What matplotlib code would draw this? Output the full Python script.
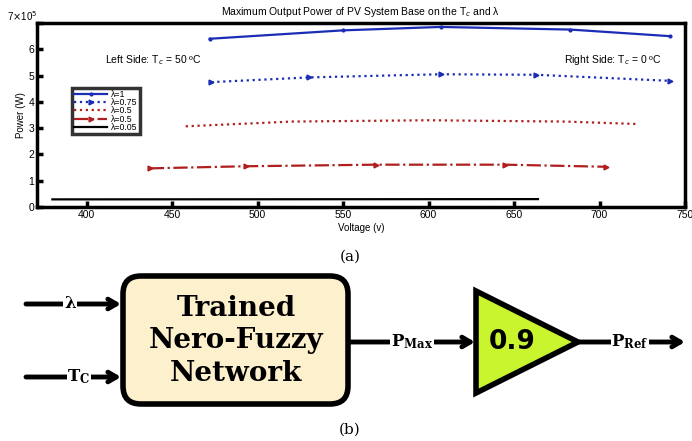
import matplotlib
matplotlib.use("Agg")
import matplotlib.pyplot as plt
from matplotlib.patches import FancyBboxPatch, Polygon

plt.rcParams['font.family'] = ['Liberation Sans', 'DejaVu Sans']
plt.rcParams['mathtext.fontset'] = 'dejavusans'

# ---- data (a) ----
v_l1 = [472, 550, 607, 683, 741]
p_l1 = [6.40e5, 6.72e5, 6.85e5, 6.75e5, 6.50e5]
v_l075 = [473, 530, 607, 663, 741]
p_l075 = [4.75e5, 4.93e5, 5.05e5, 5.03e5, 4.80e5]
v_l05a = [458, 520, 600, 680, 721]
p_l05a = [3.07e5, 3.25e5, 3.30e5, 3.25e5, 3.16e5]
v_l05b = [437, 493, 569, 645, 704]
p_l05b = [1.47e5, 1.55e5, 1.61e5, 1.61e5, 1.53e5]
v_l005 = [380, 664]
p_l005 = [0.29e5, 0.30e5]

labels = ['λ=1', 'λ=0.75', 'λ=0.5', 'λ=0.5', 'λ=0.05']
xticks = [400, 450, 500, 550, 600, 650, 700, 750]
yticks = [0, 1e5, 2e5, 3e5, 4e5, 5e5, 6e5, 7e5]
ytick_labels = ['0', '1', '2', '3', '4', '5', '6', '']

W, H = 692, 441
fig = plt.figure(figsize=(W/100, H/100), dpi=100)

ax = fig.add_axes([37/W, 1-207/H, (685-37)/W, (207-23)/H])
blue = '#1c2db5'
red = '#b01e1e'
ax.plot(v_l1, p_l1, '-', color=blue, lw=1.6, marker='.', ms=4, label=labels[0])
ax.plot(v_l075, p_l075, ':', color=blue, lw=1.6, marker='>', ms=3.5, label=labels[1])
ax.plot(v_l05a, p_l05a, ':', color=red, lw=1.6, label=labels[2])
ax.plot(v_l05b, p_l05b, '-.', color=red, lw=1.6, marker='>', ms=3.5, label=labels[3])
ax.plot(v_l005, p_l005, '-', color='black', lw=1.6, label=labels[4])

ax.set_xlim(371, 746)
ax.set_ylim(0, 7e5)
ax.set_xticks(xticks)
ax.set_yticks(yticks)
ax.set_yticklabels(ytick_labels)
ax.tick_params(direction='in', width=2.5, length=4, labelsize=7.5, pad=2)
for s in ax.spines.values():
    s.set_linewidth(2.5)
ax.text(0, 1.0, r'7$\times$10$^5$', transform=ax.transAxes, fontsize=7, ha='right', va='bottom')
ax.set_title(r'Maximum Output Power of PV System Base on the T$_c$ and λ', fontsize=7.5, pad=6)
ax.set_xlabel('Voltage (v)', fontsize=7, labelpad=2)
ax.set_ylabel('Power (W)', fontsize=7, labelpad=2)
ax.text((105-37)/648, 0.80, r'Left Side: T$_c$ = 50 ºC', transform=ax.transAxes, fontsize=7.5, ha='left', va='center')
ax.text((662-37)/648, 0.80, r'Right Side: T$_c$ = 0 ºC', transform=ax.transAxes, fontsize=7.5, ha='right', va='center')
leg = ax.legend(loc='upper left', bbox_to_anchor=((72-37)/648, 1-(88-23)/184), fontsize=6.3,
                frameon=True, fancybox=False, edgecolor='black', handlelength=3.8,
                borderpad=0.25, labelspacing=-0.1, handletextpad=0.4, borderaxespad=0)
leg.get_frame().set_linewidth(2.5)

# ---- diagram (b) ----
dax = fig.add_axes([0, 0, 1, 1])
dax.set_xlim(0, W)
dax.set_ylim(H, 0)
dax.axis('off')

dax.text(350, 257, '(a)', fontsize=11, ha='center', va='center', family='DejaVu Serif')
dax.text(350, 430, '(b)', fontsize=11, ha='center', va='center', family='DejaVu Serif')

box = FancyBboxPatch((123, 276), 225, 128, boxstyle='round,pad=0,rounding_size=18',
                     fc='#fdf0cc', ec='black', lw=4, zorder=2)
dax.add_patch(box)
dax.text(236, 341, 'Trained\nNero-Fuzzy\nNetwork', fontsize=20, fontweight='bold',
         family='DejaVu Serif', ha='center', va='center', linespacing=1.25, zorder=3)

tri = Polygon([[476, 291], [476, 393], [578, 342]], closed=True, fc='#c8f52e', ec='black', lw=4,
              joinstyle='miter', zorder=2)
dax.add_patch(tri)
dax.text(512, 342, '0.9', fontsize=19, fontweight='bold', ha='center', va='center', zorder=3,
         family='DejaVu Sans')

def arrow(x0, x1, y, lab, lx, sub=None):
    dax.annotate('', xy=(x1, y), xytext=(x0, y),
                 arrowprops=dict(arrowstyle='->,head_length=0.6,head_width=0.35', lw=3.5,
                                 color='black', shrinkA=0, shrinkB=0), zorder=1)
    if sub is None:
        dax.text(lx, y, lab, fontsize=12, fontweight='bold', family='DejaVu Serif',
                 ha='center', va='center', zorder=4, bbox=dict(fc='white', ec='none', pad=0.5))
    else:
        t = r'$\mathbf{%s}_{\mathbf{%s}}$' % (lab, sub)
        dax.text(lx, y, t, fontsize=12, ha='center', va='center', zorder=4,
                 math_fontfamily='dejavuserif', bbox=dict(fc='white', ec='none', pad=0.5))

arrow(26, 121, 304, 'λ', 70)
arrow(26, 121, 377, 'T', 79, 'C')
arrow(350, 475, 342, 'P', 412, 'Max')
arrow(578, 685, 342, 'P', 630, 'Ref')

fig.savefig('out.png', dpi=100)
